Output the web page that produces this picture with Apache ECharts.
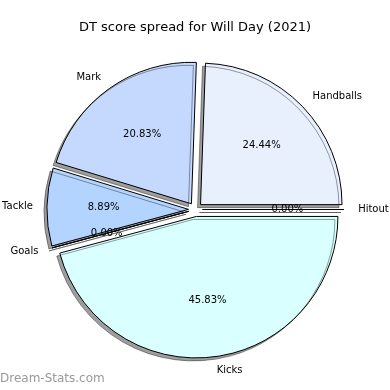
<!DOCTYPE html>
<html>
<head>
<meta charset="utf-8">
<script src="https://cdn.jsdelivr.net/npm/echarts@6/dist/echarts.min.js"></script>
<style>html,body{margin:0;padding:0;background:#fff}#c{width:390px;height:390px}</style>
</head>
<body>
<div id="c"></div>
<script>
// Data (DT points by category)
var categories = ['Handballs', 'Mark', 'Tackle', 'Goals', 'Kicks', 'Hitout'];
var values = [88, 75, 32, 0, 165, 0];
var colors = ['#e8f0fe', '#c5d9fe', '#b3d4ff', '#b3d4ff', '#d9ffff', '#e8f0fe'];
var titleText = 'DT score spread for Will Day (2021)';
var watermark = 'Dream-Stats.com';

var total = values.reduce(function (a, b) { return a + b; }, 0);
var FONT = 'DejaVu Sans';
var R = 141.5, CX = 195.5, CY = 209.5, OFF = 7;

function makeData(withColor) {
  return categories.map(function (n, i) {
    return { name: n, value: values[i], selected: true,
      itemStyle: withColor ? { color: colors[i] } : { color: 'rgba(0,0,0,0)' } };
  });
}

var chart = echarts.init(document.getElementById('c'), null, { renderer: 'canvas' });
chart.setOption({
  animation: false,
  backgroundColor: '#ffffff',
  title: {
    text: titleText, left: 'center', top: 16,
    textStyle: { fontFamily: FONT, fontSize: 13, fontWeight: 'normal', color: '#000' }
  },
  graphic: [{
    type: 'text', left: 0, top: 373,
    style: { text: watermark, fontFamily: FONT, fontSize: 12, fontWeight: 'normal', fill: '#999999' }
  }],
  series: [{
    type: 'pie',
    center: [CX, CY], radius: [0, R],
    startAngle: 0, clockwise: false,
    selectedMode: 'multiple', selectedOffset: OFF,
    avoidLabelOverlap: false,
    silent: true,
    data: makeData(true),
    itemStyle: { borderColor: '#000', borderWidth: 1,
      shadowColor: 'rgba(0,0,0,0.38)', shadowBlur: 0, shadowOffsetX: -3, shadowOffsetY: 3 },
    label: { show: true, position: 'outside', distanceToLabelLine: 0,
      fontFamily: FONT, fontSize: 10, color: '#000', formatter: '{b}' },
    labelLine: { show: false, length: 0.1 * R, length2: 0 },
    emphasis: { disabled: true }
  }, {
    type: 'pie',
    center: [CX, CY], radius: [0.2 * R - 6, R],
    startAngle: 0, clockwise: false,
    selectedMode: 'multiple', selectedOffset: OFF,
    avoidLabelOverlap: false,
    silent: true,
    data: makeData(false),
    itemStyle: { borderWidth: 0 },
    label: { show: true, position: 'inside', fontFamily: FONT, fontSize: 10, color: '#000',
      formatter: function (p) { return (p.value / total * 100).toFixed(2) + '%'; } },
    labelLine: { show: false },
    emphasis: { disabled: true }
  }]
});
</script>
</body>
</html>
